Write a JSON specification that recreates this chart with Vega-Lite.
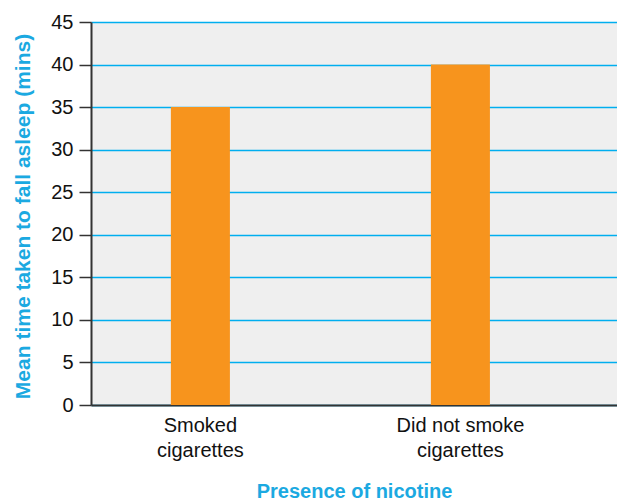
{
  "$schema": "https://vega.github.io/schema/vega-lite/v6.json",
  "width": 526,
  "height": 383,
  "autosize": {"type": "none"},
  "padding": {"left": 91, "top": 22, "right": 0, "bottom": 96},
  "background": "#ffffff",
  "view": {"fill": "#EFEFEF", "stroke": null},
  "data": {
    "values": [
      {"group": "Smoked cigarettes", "time": 35},
      {"group": "Did not smoke cigarettes", "time": 40}
    ]
  },
  "mark": {"type": "bar", "color": "#F7941D"},
  "encoding": {
    "x": {
      "field": "group",
      "type": "nominal",
      "sort": null,
      "scale": {"paddingInner": 0.773, "paddingOuter": 0.398, "align": 0.386},
      "axis": {
        "title": "Presence of nicotine",
        "labelAngle": 0,
        "labelExpr": "datum.value == 'Smoked cigarettes' ? ['Smoked', 'cigarettes'] : ['Did not smoke', 'cigarettes']",
        "labelFont": "Liberation Sans, Arial, sans-serif",
        "labelFontSize": 20,
        "labelColor": "#111111",
        "labelLineHeight": 25,
        "labelPadding": 10,
        "labelBaseline": "top",
        "ticks": false,
        "domainColor": "#333333",
        "domainWidth": 2,
        "titleFont": "Liberation Sans, Arial, sans-serif",
        "titleFontSize": 20,
        "titleFontWeight": "bold",
        "titleColor": "#1BA9E1",
        "titleBaseline": "alphabetic",
        "titleY": 92,
        "grid": false
      }
    },
    "y": {
      "field": "time",
      "type": "quantitative",
      "scale": {"domain": [0, 45], "nice": false},
      "axis": {
        "title": "Mean time taken to fall asleep (mins)",
        "values": [0, 5, 10, 15, 20, 25, 30, 35, 40, 45],
        "labelFont": "Liberation Sans, Arial, sans-serif",
        "labelFontSize": 20,
        "labelColor": "#111111",
        "labelPadding": 6,
        "tickSize": 12,
        "tickColor": "#333333",
        "tickWidth": 1.5,
        "domainColor": "#333333",
        "domainWidth": 2,
        "grid": true,
        "gridColor": "#00AEEF",
        "gridWidth": 1.5,
        "gridOpacity": 1,
        "titleFont": "Liberation Sans, Arial, sans-serif",
        "titleFontSize": 21,
        "titleFontWeight": "bold",
        "titleColor": "#1BA9E1",
        "titleAngle": -90,
        "titleBaseline": "alphabetic",
        "titleX": -62,
        "titleY": 194
      }
    }
  }
}
